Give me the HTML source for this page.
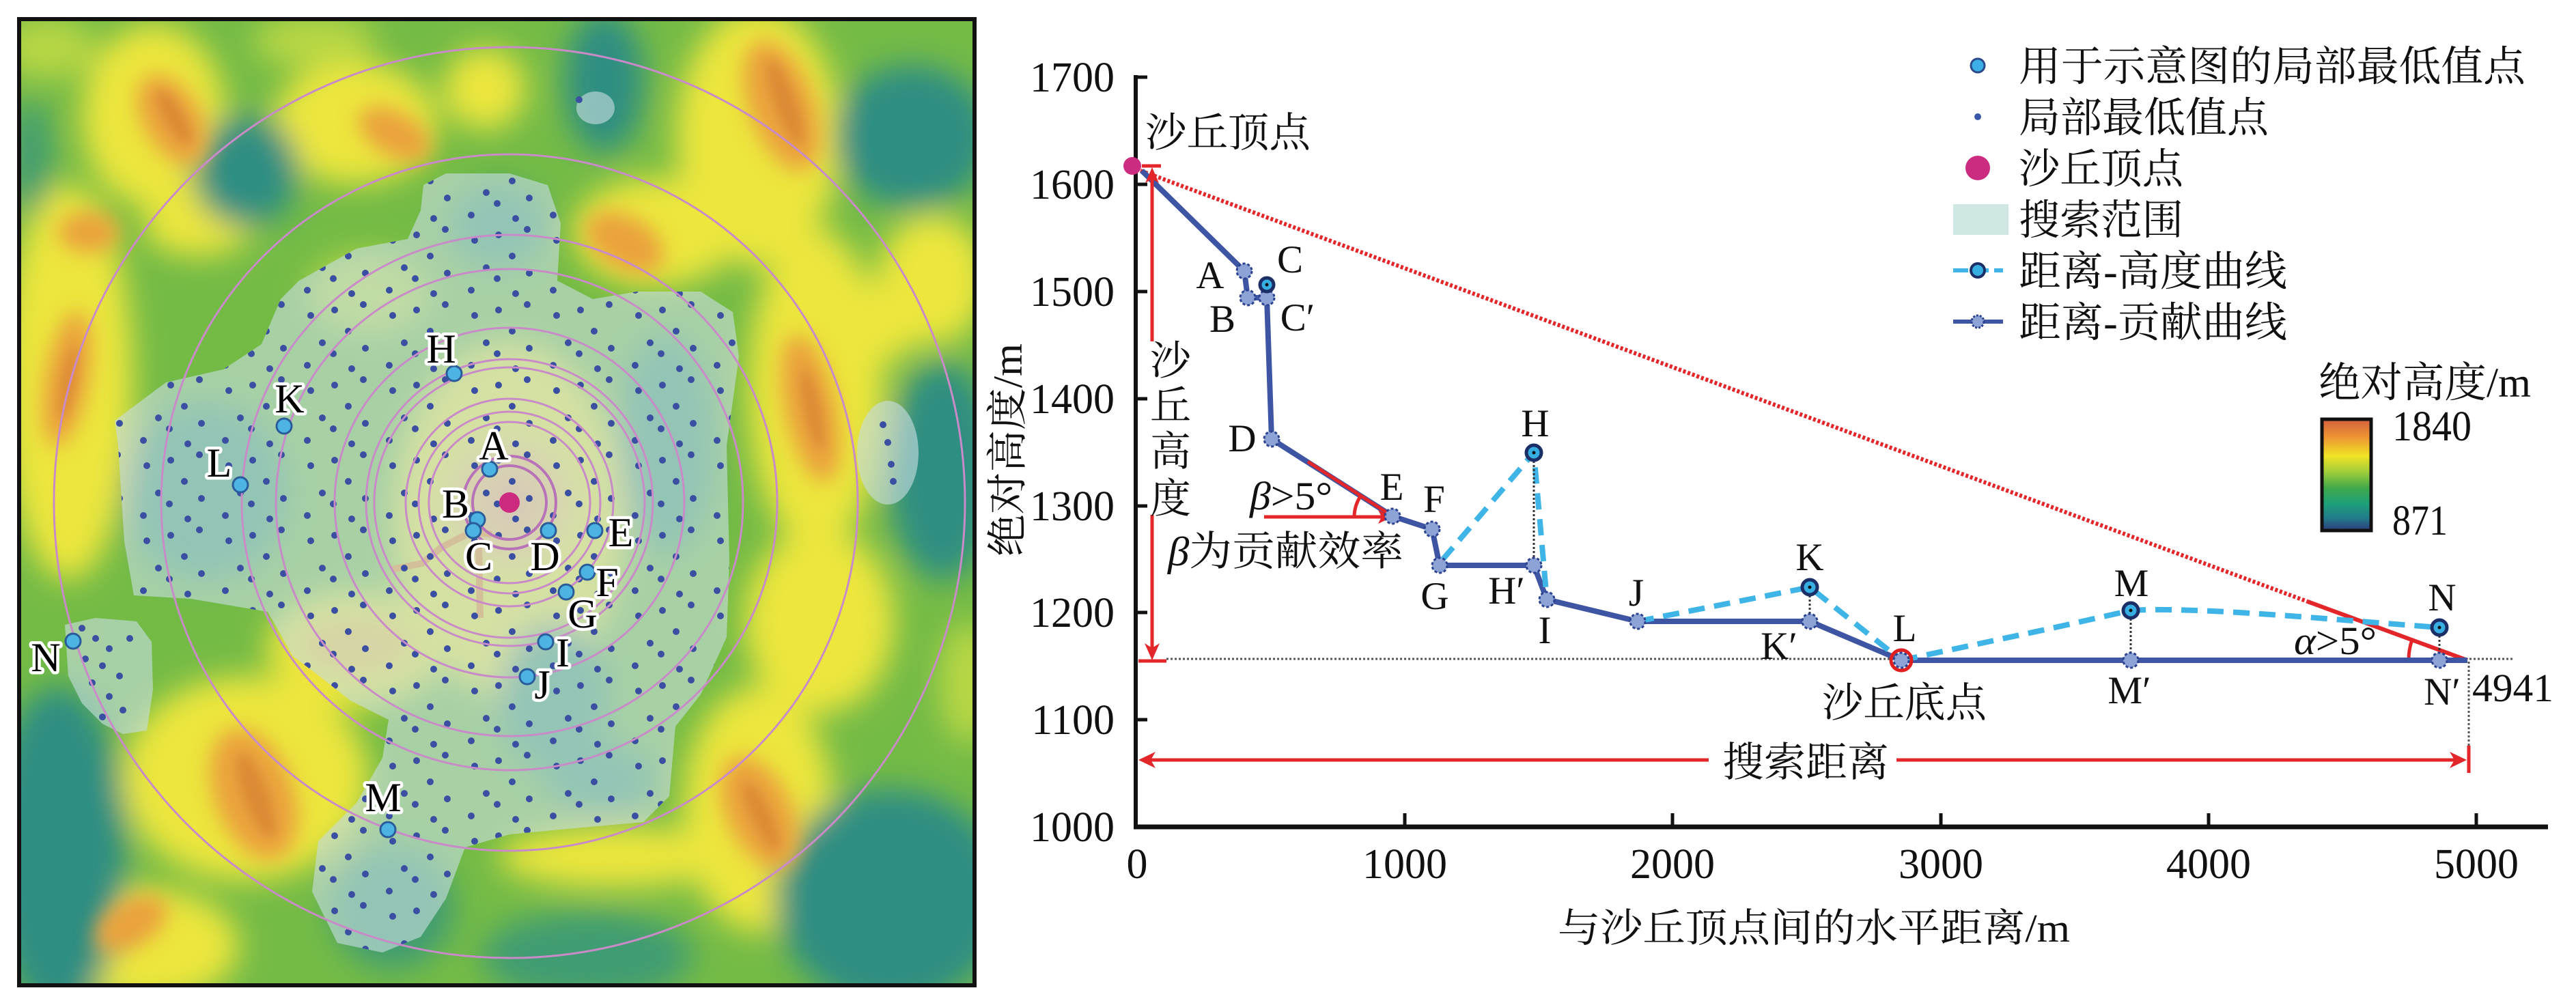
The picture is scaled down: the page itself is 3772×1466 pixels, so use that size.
<!DOCTYPE html>
<html><head><meta charset="utf-8"><style>
html,body{margin:0;padding:0;background:#fff;}
body{width:3772px;height:1466px;overflow:hidden;}
svg{display:block;}
svg text, svg tspan{font-family:"Liberation Serif","Times New Roman",Times,"DejaVu Serif","Noto Serif CJK SC","Noto Serif CJK JP",serif !important;}
</style></head><body>
<svg width="3772" height="1466" viewBox="0 0 3772 1466" xmlns="http://www.w3.org/2000/svg" style="font-family:'Liberation Serif','Noto Serif CJK SC',serif">
<defs>
  <clipPath id="mapclip"><rect x="28" y="28" width="1399" height="1415"/></clipPath>
  <filter id="blur1" filterUnits="userSpaceOnUse" x="-100" y="-100" width="1700" height="1700"><feGaussianBlur stdDeviation="22"/></filter>
  <filter id="blur2" filterUnits="userSpaceOnUse" x="-100" y="-100" width="1700" height="1700"><feGaussianBlur stdDeviation="15"/></filter>
  <filter id="blur3" filterUnits="userSpaceOnUse" x="-100" y="-100" width="1700" height="1700"><feGaussianBlur stdDeviation="8"/></filter>
  <radialGradient id="glow" cx="0.5" cy="0.5" r="0.5">
    <stop offset="0" stop-color="#f2a07e" stop-opacity="0.95"/>
    <stop offset="0.55" stop-color="#f2b478" stop-opacity="0.65"/>
    <stop offset="1" stop-color="#f3d27a" stop-opacity="0"/>
  </radialGradient>
  <linearGradient id="cbar" x1="0" y1="0" x2="0" y2="1">
    <stop offset="0" stop-color="#d4603c"/>
    <stop offset="0.16" stop-color="#ec9434"/>
    <stop offset="0.33" stop-color="#f1e424"/>
    <stop offset="0.48" stop-color="#9ccc3c"/>
    <stop offset="0.62" stop-color="#3fa84a"/>
    <stop offset="0.76" stop-color="#1ea07a"/>
    <stop offset="0.89" stop-color="#227a8a"/>
    <stop offset="1" stop-color="#2c3a7c"/>
  </linearGradient>
  <pattern id="dots" patternUnits="userSpaceOnUse" width="120" height="110">
    <g fill="#3b4fa2">
      <circle cx="10" cy="14" r="5"/><circle cx="52" cy="6" r="5"/><circle cx="95" cy="22" r="5"/>
      <circle cx="30" cy="45" r="5"/><circle cx="112" cy="62" r="5"/>
      <circle cx="8" cy="78" r="5"/><circle cx="55" cy="70" r="5"/><circle cx="90" cy="95" r="5"/>
      <circle cx="35" cy="100" r="5"/>
    </g>
  </pattern>
  <clipPath id="searchclip"><path d="M620,271 L653,254 L746,254 L802,271 L821,327 L816,411 L868,438 L933,427 L1026,427 L1073,457 L1082,522 L1064,653 L1068,821 L1064,933 L1026,1017 L989,1064 L980,1166 L942,1204 L840,1213 L746,1222 L681,1241 L653,1316 L616,1372 L560,1395 L494,1381 L457,1306 L466,1232 L522,1176 L560,1110 L569,1054 L513,1026 L466,989 L429,961 L392,896 L280,877 L196,872 L182,793 L173,653 L168,616 L243,560 L327,541 L383,504 L411,438 L438,411 L522,364 L597,350 L616,308 Z"/></clipPath>
</defs>

<!-- ================= MAP ================= -->
<g clip-path="url(#mapclip)">
  <rect x="28" y="28" width="1399" height="1415" fill="#74bb46"/>
  <g filter="url(#blur1)">
    <g fill="#ece63c">
      <ellipse cx="225" cy="170" rx="105" ry="135"/>
      <ellipse cx="100" cy="560" rx="95" ry="290"/>
      <ellipse cx="520" cy="180" rx="120" ry="90"/>
      <ellipse cx="710" cy="130" rx="60" ry="60"/>
      <ellipse cx="1110" cy="200" rx="120" ry="190"/>
      <ellipse cx="960" cy="340" rx="120" ry="80"/>
      <ellipse cx="1195" cy="570" rx="100" ry="235"/>
      <ellipse cx="1200" cy="910" rx="110" ry="135"/>
      <ellipse cx="1365" cy="410" rx="80" ry="95"/>
      <ellipse cx="360" cy="1140" rx="180" ry="150"/>
      <ellipse cx="210" cy="1385" rx="140" ry="85"/>
      <ellipse cx="1110" cy="1185" rx="110" ry="180"/>
      <ellipse cx="520" cy="950" rx="130" ry="85"/>
      <ellipse cx="745" cy="760" rx="170" ry="260"/>
      <ellipse cx="900" cy="1255" rx="170" ry="45"/>
      <ellipse cx="290" cy="330" rx="80" ry="45"/>
      <ellipse cx="1290" cy="470" rx="60" ry="60"/>
    </g>
    <g fill="#b8d744">
      <ellipse cx="70" cy="70" rx="70" ry="45"/>
      <ellipse cx="540" cy="430" rx="90" ry="60"/>
      <ellipse cx="1420" cy="1000" rx="45" ry="90"/>
      <ellipse cx="460" cy="60" rx="90" ry="40"/>
    </g>
    <g fill="#2d8e82">
      <ellipse cx="360" cy="250" rx="78" ry="82"/>
      <ellipse cx="885" cy="120" rx="58" ry="105"/>
      <ellipse cx="1335" cy="200" rx="115" ry="105"/>
      <ellipse cx="1380" cy="690" rx="80" ry="160"/>
      <ellipse cx="85" cy="1245" rx="100" ry="240"/>
      <ellipse cx="1305" cy="1315" rx="170" ry="160"/>
    </g>
    <g fill="#3f9c72">
      <ellipse cx="860" cy="1400" rx="155" ry="65"/>
      <ellipse cx="575" cy="1330" rx="90" ry="90"/>
      <ellipse cx="45" cy="230" rx="30" ry="85"/>
      <ellipse cx="810" cy="1020" rx="80" ry="110"/>
      <ellipse cx="300" cy="720" rx="120" ry="130"/>
      <ellipse cx="975" cy="650" rx="70" ry="160"/>
      <ellipse cx="730" cy="330" rx="70" ry="60"/>
      <ellipse cx="880" cy="1140" rx="80" ry="50"/>
    </g>
  </g>
  <g filter="url(#blur2)" fill="#eaa23c">
    <ellipse cx="252" cy="175" rx="42" ry="72" transform="rotate(-30 252 175)"/>
    <ellipse cx="130" cy="340" rx="45" ry="30"/>
    <ellipse cx="98" cy="555" rx="32" ry="100" transform="rotate(10 98 555)"/>
    <ellipse cx="578" cy="196" rx="58" ry="32" transform="rotate(30 578 196)"/>
    <ellipse cx="1145" cy="155" rx="48" ry="100" transform="rotate(-20 1145 155)"/>
    <ellipse cx="915" cy="355" rx="62" ry="38" transform="rotate(30 915 355)"/>
    <ellipse cx="1187" cy="598" rx="38" ry="110" transform="rotate(-12 1187 598)"/>
    <ellipse cx="372" cy="1163" rx="58" ry="100" transform="rotate(-20 372 1163)"/>
    <ellipse cx="192" cy="1352" rx="58" ry="34" transform="rotate(-30 192 1352)"/>
    <ellipse cx="1112" cy="1190" rx="48" ry="88" transform="rotate(-25 1112 1190)"/>
  </g>
  <g filter="url(#blur2)" fill="#f0c844">
    <ellipse cx="520" cy="945" rx="80" ry="40"/>
  </g>
  <g filter="url(#blur3)" fill="#dc8a36">
    <ellipse cx="255" cy="172" rx="14" ry="45" transform="rotate(-30 255 172)"/>
    <ellipse cx="1150" cy="150" rx="16" ry="65" transform="rotate(-20 1150 150)"/>
    <ellipse cx="375" cy="1165" rx="18" ry="65" transform="rotate(-20 375 1165)"/>
    <ellipse cx="1190" cy="600" rx="12" ry="60" transform="rotate(-12 1190 600)"/>
    <ellipse cx="1115" cy="1195" rx="14" ry="55" transform="rotate(-25 1115 1195)"/>
    <ellipse cx="100" cy="560" rx="10" ry="55" transform="rotate(10 100 560)"/>
  </g>
  <circle cx="746" cy="736" r="125" fill="url(#glow)"/>
  <g fill="none" stroke="#e8902a" stroke-width="10" stroke-linecap="square">
    <path d="M578,833 L618,825 L646,802 L661,794 L677,786"/>
    <path d="M701,800 L703,900"/>
    <path d="M690,778 L715,782"/>
  </g>
  <g fill="#c6dde0" opacity="0.62">
    <path d="M620,271 L653,254 L746,254 L802,271 L821,327 L816,411 L868,438 L933,427 L1026,427 L1073,457 L1082,522 L1064,653 L1068,821 L1064,933 L1026,1017 L989,1064 L980,1166 L942,1204 L840,1213 L746,1222 L681,1241 L653,1316 L616,1372 L560,1395 L494,1381 L457,1306 L466,1232 L522,1176 L560,1110 L569,1054 L513,1026 L466,989 L429,961 L392,896 L280,877 L196,872 L182,793 L173,653 L168,616 L243,560 L327,541 L383,504 L411,438 L438,411 L522,364 L597,350 L616,308 Z"/>
    <ellipse cx="872" cy="158" rx="28" ry="24"/>
    <ellipse cx="1300" cy="663" rx="45" ry="76"/>
    <path d="M95,915 L140,905 L200,910 L222,940 L224,1010 L215,1070 L180,1075 L150,1060 L120,1030 L100,990 Z"/>
  </g>
  <rect x="28" y="28" width="1399" height="1415" fill="url(#dots)" clip-path="url(#searchclip)"/>
  <g fill="#3b4fa2">
    <circle cx="848" cy="146" r="5"/>
    <circle cx="1293" cy="622" r="5"/><circle cx="1300" cy="648" r="5"/><circle cx="1305" cy="680" r="5"/><circle cx="1308" cy="705" r="5"/>
    <circle cx="120" cy="920" r="5"/><circle cx="140" cy="935" r="5"/><circle cx="160" cy="950" r="5"/><circle cx="150" cy="975" r="5"/>
    <circle cx="175" cy="990" r="5"/><circle cx="135" cy="1000" r="5"/><circle cx="160" cy="1020" r="5"/><circle cx="180" cy="1040" r="5"/>
    <circle cx="150" cy="1050" r="5"/><circle cx="125" cy="965" r="5"/><circle cx="190" cy="935" r="5"/>
  </g>
  <g fill="none" stroke="#c88bc8" stroke-width="3">
    <circle cx="746" cy="736" r="667"/><circle cx="746" cy="736" r="510"/>
    <circle cx="746" cy="736" r="392"/><circle cx="746" cy="736" r="342"/>
    <circle cx="746" cy="736" r="256"/><circle cx="746" cy="736" r="210"/>
    <circle cx="746" cy="736" r="198"/><circle cx="746" cy="736" r="152"/>
    <circle cx="746" cy="736" r="133"/><circle cx="746" cy="736" r="118"/>
  </g>
  <g fill="none" stroke="#b873b8" stroke-width="4">
    <circle cx="746" cy="736" r="68"/><circle cx="746" cy="736" r="54"/>
  </g>
  <circle cx="746" cy="736" r="15" fill="#cc2a7f"/>
  <g fill="#4cb3e3" stroke="#2a5c9a" stroke-width="3">
    <circle cx="717" cy="687" r="11"/><circle cx="699" cy="761" r="11"/><circle cx="693" cy="777" r="11"/>
    <circle cx="803" cy="777" r="11"/><circle cx="871" cy="777" r="11"/><circle cx="860" cy="838" r="11"/>
    <circle cx="829" cy="867" r="11"/><circle cx="799" cy="940" r="11"/><circle cx="772" cy="991" r="11"/>
    <circle cx="665" cy="547" r="11"/><circle cx="416" cy="624" r="11"/><circle cx="352" cy="710" r="11"/>
    <circle cx="568" cy="1215" r="11"/><circle cx="107" cy="939" r="11"/>
  </g>
  <g font-size="60" fill="#000" stroke="#fff" stroke-width="9" stroke-linejoin="round" paint-order="stroke" text-anchor="middle">
    <text x="723" y="673">A</text><text x="667" y="758">B</text><text x="701" y="835">C</text>
    <text x="798" y="835">D</text><text x="909" y="800">E</text><text x="889" y="873">F</text>
    <text x="853" y="919">G</text><text x="824" y="976">I</text><text x="794" y="1023">J</text>
    <text x="646" y="531">H</text><text x="424" y="604">K</text><text x="321" y="698">L</text>
    <text x="561" y="1188">M</text><text x="67" y="983">N</text>
  </g>
</g>
<rect x="28" y="28" width="1399" height="1415" fill="none" stroke="#111" stroke-width="6"/>

<!-- ================= CHART ================= -->
<text transform="translate(1496,659) rotate(-90)" text-anchor="middle" font-size="60" textLength="312" lengthAdjust="spacingAndGlyphs" fill="#111">绝对高度/m</text>

<g stroke="#111" fill="none">
  <line x1="1663" y1="110" x2="1663" y2="1214" stroke-width="6"/>
  <line x1="1660" y1="1211" x2="3731" y2="1211" stroke-width="7"/>
  <g stroke-width="5">
    <line x1="1663" y1="113" x2="1680" y2="113"/><line x1="1663" y1="270" x2="1680" y2="270"/>
    <line x1="1663" y1="427" x2="1680" y2="427"/><line x1="1663" y1="584" x2="1680" y2="584"/>
    <line x1="1663" y1="741" x2="1680" y2="741"/><line x1="1663" y1="897" x2="1680" y2="897"/>
    <line x1="1663" y1="1054" x2="1680" y2="1054"/>
    <line x1="2057" y1="1191" x2="2057" y2="1211"/><line x1="2449" y1="1191" x2="2449" y2="1211"/>
    <line x1="2842" y1="1191" x2="2842" y2="1211"/><line x1="3234" y1="1191" x2="3234" y2="1211"/>
    <line x1="3626" y1="1191" x2="3626" y2="1211"/>
  </g>
</g>
<g font-size="62" fill="#111" text-anchor="end">
  <text x="1632" y="134">1700</text><text x="1632" y="291">1600</text><text x="1632" y="448">1500</text>
  <text x="1632" y="605">1400</text><text x="1632" y="762">1300</text><text x="1632" y="918">1200</text>
  <text x="1632" y="1075">1100</text><text x="1632" y="1232">1000</text>
</g>
<g font-size="62" fill="#111" text-anchor="middle">
  <text x="1665" y="1286">0</text><text x="2057" y="1286">1000</text><text x="2449" y="1286">2000</text>
  <text x="2842" y="1286">3000</text><text x="3234" y="1286">4000</text><text x="3626" y="1286">5000</text>
</g>
<text x="2281" y="1379" font-size="58" textLength="750" lengthAdjust="spacingAndGlyphs" fill="#111">与沙丘顶点间的水平距离/m</text>

<line x1="1708" y1="965" x2="3680" y2="965" stroke="#555" stroke-width="3" stroke-dasharray="3 3"/>
<line x1="3615" y1="969" x2="3615" y2="1092" stroke="#555" stroke-width="3" stroke-dasharray="3 3"/>

<line x1="1670" y1="250" x2="3379" y2="881" stroke="#e3262a" stroke-width="6" stroke-dasharray="4 3"/>
<line x1="3379" y1="881" x2="3613" y2="967" stroke="#e3262a" stroke-width="6"/>
<line x1="3379" y1="966" x2="3613" y2="966" stroke="#e3262a" stroke-width="6"/>
<path d="M3527,967 A86,86 0 0 1 3532,937" fill="none" stroke="#e3262a" stroke-width="5"/>

<path d="M1672,250 L1822,397 L1827,436 L1855,436 L1862,643 L2039,756 L2097,775 L2108,828 L2246,828 L2265,878 L2398,910 L2650,910 L2784,967 L3613,967" fill="none" stroke="#3d55a2" stroke-width="8" stroke-linejoin="round"/>

<g fill="none" stroke="#3fb4e6" stroke-width="8" stroke-dasharray="24 14">
  <path d="M2112,820 L2246,663 L2265,878"/>
  <path d="M2398,910 L2650,860 L2784,967"/>
  <path d="M2784,967 L3000,921 L3120,894 C3220,888 3420,908 3572,919"/>
</g>
<g stroke="#333" stroke-width="3" stroke-dasharray="3 3">
  <line x1="2246" y1="663" x2="2246" y2="828"/><line x1="2650" y1="860" x2="2650" y2="910"/>
  <line x1="3120" y1="894" x2="3120" y2="967"/><line x1="3572" y1="919" x2="3572" y2="967"/>
</g>

<g stroke="#e3262a" stroke-width="5" fill="none">
  <line x1="1915" y1="676" x2="2039" y2="756"/>
  <line x1="1851" y1="757" x2="2025" y2="757"/>
  <path d="M1983,757 A56,56 0 0 1 1992,727"/>
</g>
<polygon points="2039,757 2018,747 2023,757 2018,767" fill="#e3262a"/>

<g stroke="#e3262a" stroke-width="5" fill="none">
  <line x1="1687" y1="255" x2="1687" y2="500"/>
  <line x1="1687" y1="754" x2="1687" y2="960"/>
  <line x1="1672" y1="243" x2="1700" y2="243"/>
  <line x1="1667" y1="968" x2="1708" y2="968"/>
</g>
<polygon points="1687,245 1677,268 1687,262 1697,268" fill="#e3262a"/>
<polygon points="1687,967 1676,942 1687,949 1698,942" fill="#e3262a"/>

<g stroke="#e3262a" stroke-width="5" fill="none">
  <line x1="1672" y1="1113" x2="2502" y2="1113"/>
  <line x1="2777" y1="1113" x2="3606" y2="1113"/>
  <line x1="3615" y1="1092" x2="3615" y2="1132"/>
</g>
<polygon points="1667,1113 1692,1101 1685,1113 1692,1125" fill="#e3262a"/>
<polygon points="3612,1113 3587,1101 3594,1113 3587,1125" fill="#e3262a"/>

<g fill="#8da3d6" stroke="#2b4290" stroke-width="3" stroke-dasharray="4 3">
  <circle cx="1822" cy="397" r="11"/><circle cx="1827" cy="436" r="11"/><circle cx="1855" cy="436" r="11"/>
  <circle cx="1862" cy="643" r="11"/><circle cx="2039" cy="756" r="11"/><circle cx="2097" cy="775" r="11"/>
  <circle cx="2108" cy="828" r="11"/><circle cx="2246" cy="828" r="11"/><circle cx="2265" cy="878" r="11"/>
  <circle cx="2398" cy="910" r="11"/><circle cx="2650" cy="910" r="11"/><circle cx="2784" cy="967" r="11"/>
  <circle cx="3120" cy="967" r="11"/><circle cx="3572" cy="967" r="11"/>
</g>
<circle cx="2784" cy="967" r="15" fill="none" stroke="#e02020" stroke-width="5"/>
<g fill="#36aee2" stroke="#1c2e66" stroke-width="5">
  <circle cx="1855" cy="417" r="10"/><circle cx="2246" cy="663" r="11"/><circle cx="2650" cy="860" r="11"/>
  <circle cx="3120" cy="894" r="11"/><circle cx="3572" cy="919" r="11"/>
</g>
<g fill="#111">
  <circle cx="1855" cy="417" r="2.5"/><circle cx="2246" cy="663" r="2.5"/><circle cx="2650" cy="860" r="2.5"/>
  <circle cx="3120" cy="894" r="2.5"/><circle cx="3572" cy="919" r="2.5"/>
</g>
<circle cx="1658" cy="243" r="13" fill="#cc2c80"/>

<g font-size="57" fill="#111" text-anchor="middle">
  <text x="1772" y="422">A</text><text x="1790" y="486">B</text><text x="1889" y="399">C</text>
  <text x="1900" y="484">C′</text><text x="1819" y="661">D</text><text x="2038" y="732">E</text>
  <text x="2100" y="750">F</text><text x="2101" y="892">G</text><text x="2248" y="639">H</text>
  <text x="2206" y="884">H′</text><text x="2262" y="942">I</text><text x="2396" y="887">J</text>
  <text x="2650" y="835">K</text><text x="2605" y="965">K′</text><text x="2789" y="939">L</text>
  <text x="3121" y="873">M</text><text x="3118" y="1030">M′</text><text x="3576" y="894">N</text>
  <text x="3576" y="1032">N′</text>
</g>
<text x="3620" y="1027" font-size="58" fill="#111" textLength="119" lengthAdjust="spacingAndGlyphs">4941</text>

<g fill="#111" font-size="60">
  <text x="1677" y="215" textLength="242" lengthAdjust="spacingAndGlyphs">沙丘顶点</text>
  <text x="1714" y="549" text-anchor="middle">沙</text>
  <text x="1714" y="615" text-anchor="middle">丘</text>
  <text x="1714" y="682" text-anchor="middle">高</text>
  <text x="1714" y="751" text-anchor="middle">度</text>
  <text x="2522" y="1137" textLength="244" lengthAdjust="spacingAndGlyphs">搜索距离</text>
  <text x="2668" y="1050" textLength="241" lengthAdjust="spacingAndGlyphs">沙丘底点</text>
  <text x="1710" y="828" textLength="345" lengthAdjust="spacingAndGlyphs"><tspan font-style="italic">β</tspan>为贡献效率</text>
</g>
<text x="1830" y="746" font-size="58" fill="#111" textLength="121" lengthAdjust="spacingAndGlyphs"><tspan font-style="italic">β</tspan>&gt;5°</text>
<text x="3359" y="958" font-size="58" fill="#111" textLength="121" lengthAdjust="spacingAndGlyphs"><tspan font-style="italic">α</tspan>&gt;5°</text>

<!-- ================= LEGEND ================= -->
<circle cx="2896" cy="96" r="10" fill="#3bb0e4" stroke="#2a4a8a" stroke-width="3"/>
<circle cx="2896" cy="171" r="5" fill="#3a56a8"/>
<circle cx="2896" cy="246" r="18" fill="#cc2c80"/>
<rect x="2860" y="299" width="81" height="45" fill="#cfe8e3"/>
<line x1="2860" y1="396" x2="2933" y2="396" stroke="#3fb4e6" stroke-width="6" stroke-dasharray="22 8"/>
<circle cx="2896" cy="396" r="10" fill="#36aee2" stroke="#1c2e66" stroke-width="4"/>
<line x1="2860" y1="471" x2="2933" y2="471" stroke="#3d55a2" stroke-width="6"/>
<circle cx="2896" cy="471" r="9" fill="#8da3d6" stroke="#2b4290" stroke-width="3" stroke-dasharray="3 2"/>
<g fill="#111" font-size="61">
  <text x="2956" y="118" textLength="742" lengthAdjust="spacingAndGlyphs">用于示意图的局部最低值点</text>
  <text x="2956" y="193" textLength="366" lengthAdjust="spacingAndGlyphs">局部最低值点</text>
  <text x="2956" y="268" textLength="241" lengthAdjust="spacingAndGlyphs">沙丘顶点</text>
  <text x="2956" y="343" textLength="241" lengthAdjust="spacingAndGlyphs">搜索范围</text>
  <text x="2956" y="418" textLength="393" lengthAdjust="spacingAndGlyphs">距离-高度曲线</text>
  <text x="2956" y="493" textLength="393" lengthAdjust="spacingAndGlyphs">距离-贡献曲线</text>
  <text x="3395" y="581" textLength="311" lengthAdjust="spacingAndGlyphs">绝对高度/m</text>
</g>
<rect x="3400" y="614" width="72" height="163" fill="url(#cbar)" stroke="#111" stroke-width="5"/>
<g fill="#111" font-size="62">
  <text x="3503" y="645" textLength="116" lengthAdjust="spacingAndGlyphs">1840</text>
  <text x="3503" y="783" textLength="81" lengthAdjust="spacingAndGlyphs">871</text>
</g>
</svg>
</body></html>
